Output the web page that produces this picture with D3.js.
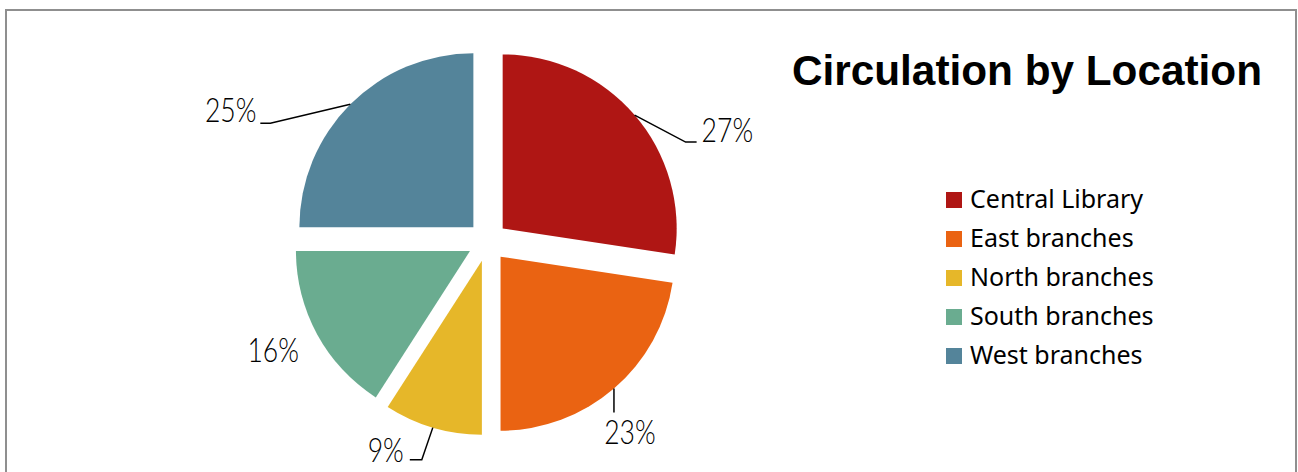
<!DOCTYPE html>
<html><head><meta charset="utf-8">
<script src="https://cdn.jsdelivr.net/npm/d3@7"></script>
<style>html,body{margin:0;padding:0;background:#fff;overflow:hidden}</style>
</head><body>
<svg id="chart" width="1298" height="472"></svg>
<script>
// ---- data ----
const categories = ["Central Library", "East branches", "North branches", "South branches", "West branches"];
const shares = [27.4, 22.6, 9.1, 15.9, 25.0];
const colors = ["#AF1614", "#EA6312", "#E6B729", "#6AAC90", "#54849A"];
const title = "Circulation by Location";

// ---- layout (label placement relative to slice outer mid point) ----
const labelLayout = [
  {leader: [[51, 27], [62, 27]], text: [67, 27], anchor: "start"},
  {leader: [[0, 24]], text: [16, 55], anchor: "middle"},
  {leader: [[-11, 32], [-23, 32]], text: [-29, 34], anchor: "end"},
  {leader: null, text: [-44, 28], anchor: "middle"},
  {leader: [[-80, 19], [-90, 19]], text: [-94, 18], anchor: "end"}
];

const svg = d3.select("#chart");

// outer border
svg.append("rect").attr("x", 6).attr("y", 10).attr("width", 1290).attr("height", 500)
  .attr("fill", "#fff").attr("stroke", "#8f8f8f").attr("stroke-width", 2);

const cx = 487.5, cy = 241.5, R = 174, explode = 20;
const total = d3.sum(shares);
const pie = d3.pie().sort(null).value(d => d)(shares);
const arc = d3.arc().innerRadius(0).outerRadius(R);
const fmt = d3.format(".0%");

const g = svg.append("g").attr("transform", `translate(${cx},${cy})`);

pie.forEach((p, i) => {
  const mid = (p.startAngle + p.endAngle) / 2;
  const ox = Math.sin(mid) * explode, oy = -Math.cos(mid) * explode;
  const sg = g.append("g").attr("transform", `translate(${ox},${oy})`);
  sg.append("path").attr("d", arc(p)).attr("fill", colors[i]);
  const px = Math.sin(mid) * R, py = -Math.cos(mid) * R;
  const L = labelLayout[i];
  if (L.leader) {
    const pts = [[px, py]].concat(L.leader.map(q => [px + q[0], py + q[1]]));
    sg.append("path").attr("d", d3.line()(pts)).attr("fill", "none")
      .attr("stroke", "#000").attr("stroke-width", 1.5);
  }
  sg.append("text")
    .attr("transform", `translate(${px + L.text[0]},${py + L.text[1]}) scale(0.78,1)`)
    .attr("text-anchor", L.anchor)
    .style("font-family", "Lato,'Open Sans',sans-serif").style("font-weight", 300)
    .style("font-size", "34px").attr("fill", "#000")
    .text(fmt(p.data / total));
});

// title
svg.append("text").attr("x", 1027).attr("y", 85).attr("text-anchor", "middle")
  .style("font-family", "'Liberation Sans',Arial,sans-serif").style("font-weight", "bold")
  .style("font-size", "42.3px").attr("fill", "#000").text(title);

// legend
const ly = d3.scaleBand().domain(categories).range([192, 192 + 39 * categories.length]);
const lg = svg.append("g");
categories.forEach((c, i) => {
  const y = ly(c);
  lg.append("rect").attr("x", 946).attr("y", y).attr("width", 16).attr("height", 16).attr("fill", colors[i]);
  lg.append("text").attr("x", 970).attr("y", y + 16)
    .style("font-family", "'Noto Sans','Open Sans',sans-serif").style("font-size", "25px")
    .attr("fill", "#000").text(c);
});
</script>
</body></html>
